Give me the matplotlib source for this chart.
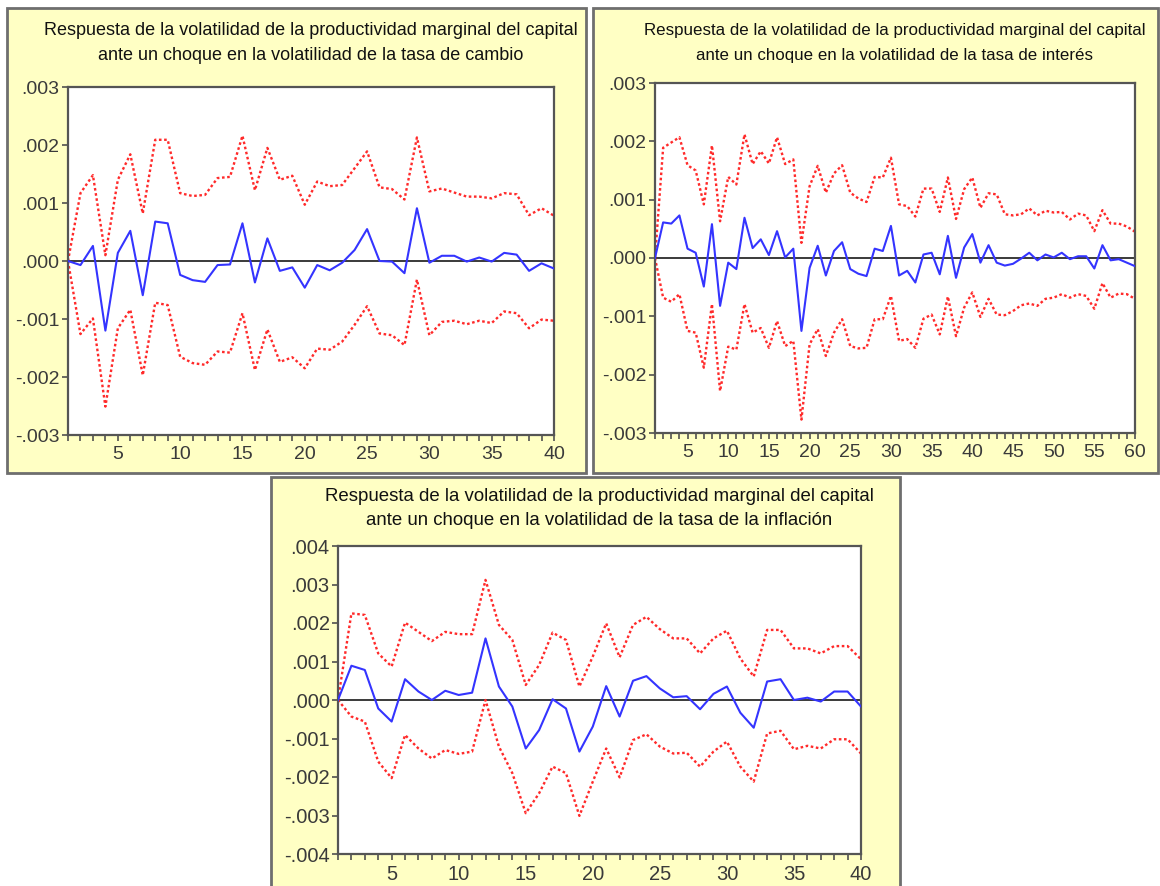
import numpy as np
import matplotlib.pyplot as plt
from matplotlib.patches import Rectangle
from matplotlib.ticker import FixedLocator, MultipleLocator, FuncFormatter

# Panel 1: shock in exchange-rate volatility (40 periods)
resp_cambio = [0.0, -0.00007, 0.00026, -0.0012, 0.00014, 0.00052, -0.00059, 0.00068, 0.00065, -0.00024,
               -0.00033, -0.00036, -0.00007, -0.00006, 0.00065, -0.00037, 0.00039, -0.00017, -0.00011, -0.00046,
               -0.00007, -0.00016, -0.00003, 0.00019, 0.00055, 0.0, -0.00001, -0.00021, 0.00091, -0.00003,
               0.00009, 0.00009, -0.00001, 0.00006, -0.00001, 0.00014, 0.00011, -0.00017, -0.00004, -0.00013]
sup_cambio = [0.0, 0.00117, 0.00148, 0.0001, 0.0014, 0.00184, 0.00082, 0.00209, 0.00209, 0.00117,
              0.00112, 0.00114, 0.00143, 0.00145, 0.00216, 0.00122, 0.00195, 0.0014, 0.00147, 0.00097,
              0.00137, 0.00129, 0.00131, 0.0016, 0.00189, 0.00127, 0.00124, 0.00106, 0.00213, 0.0012,
              0.00125, 0.00118, 0.00111, 0.00111, 0.00108, 0.00117, 0.00115, 0.00079, 0.00091, 0.00078]
inf_cambio = [0.0, -0.00126, -0.00099, -0.00251, -0.00116, -0.00084, -0.00197, -0.00072, -0.00076, -0.00165,
              -0.00176, -0.00179, -0.00156, -0.00158, -0.0009, -0.00188, -0.00118, -0.00174, -0.00166, -0.00185,
              -0.00151, -0.00153, -0.00139, -0.0011, -0.00078, -0.00125, -0.00128, -0.00145, -0.00032, -0.00128,
              -0.00105, -0.00103, -0.00109, -0.00103, -0.00107, -0.00087, -0.0009, -0.00116, -0.00101, -0.00103]

# Panel 2: shock in interest-rate volatility (60 periods)
resp_interes = [0.0, 0.00061, 0.00059, 0.00073, 0.00016, 0.00009, -0.00049, 0.00058, -0.00082, -0.00008,
                -0.00019, 0.00069, 0.00017, 0.00032, 0.00005, 0.00046, 0.00001, 0.00016, -0.00125, -0.00017,
                0.00021, -0.0003, 0.00012, 0.00027, -0.00019, -0.00027, -0.00031, 0.00016, 0.00012, 0.00055,
                -0.0003, -0.00022, -0.00042, 0.00006, 0.00009, -0.00028, 0.00038, -0.00034, 0.00018, 0.00041,
                -0.00008, 0.00022, -0.00008, -0.00013, -0.0001, -0.00001, 0.00009, -0.00004, 0.00006, 0.00001,
                0.00009, -0.00002, 0.00003, 0.00003, -0.00018, 0.00022, -0.00004, -0.00002, -0.00008, -0.00014]
sup_interes = [0.0, 0.00189, 0.00198, 0.00207, 0.00159, 0.0015, 0.00092, 0.00193, 0.00063, 0.00139,
               0.00126, 0.00212, 0.00161, 0.00183, 0.00162, 0.00207, 0.00161, 0.00169, 0.00026, 0.00123,
               0.00158, 0.00112, 0.00145, 0.00159, 0.00112, 0.00102, 0.00096, 0.00139, 0.00138, 0.00172,
               0.00092, 0.00089, 0.00071, 0.00119, 0.00119, 0.00079, 0.00138, 0.00067, 0.00118, 0.00138,
               0.00086, 0.00111, 0.00109, 0.00075, 0.00073, 0.00075, 0.00085, 0.00073, 0.00081, 0.00078,
               0.00079, 0.00066, 0.00076, 0.00073, 0.00046, 0.00082, 0.00059, 0.00059, 0.00054, 0.00045]
inf_interes = [0.0, -0.00068, -0.00075, -0.00062, -0.00125, -0.00128, -0.00188, -0.00079, -0.00228, -0.00152,
               -0.00157, -0.00079, -0.00128, -0.0012, -0.00154, -0.00108, -0.00151, -0.00142, -0.00277, -0.00148,
               -0.00122, -0.00168, -0.00128, -0.00105, -0.00151, -0.00155, -0.00154, -0.00105, -0.00105, -0.00065,
               -0.00142, -0.00139, -0.00154, -0.00104, -0.00097, -0.00131, -0.00066, -0.00134, -0.00085, -0.00059,
               -0.00101, -0.0007, -0.00097, -0.00098, -0.00091, -0.00081, -0.00078, -0.00082, -0.0007, -0.00068,
               -0.00062, -0.00068, -0.00062, -0.00065, -0.00087, -0.00043, -0.00068, -0.00061, -0.00062, -0.0007]

# Panel 3: shock in inflation volatility (40 periods)
resp_inflacion = [0.0, 0.00089, 0.00078, -0.00022, -0.00056, 0.00054, 0.00022, 0.0, 0.00024, 0.00013,
                  0.00019, 0.0016, 0.00035, -0.00017, -0.00126, -0.00078, 0.00002, -0.00022, -0.00134, -0.00069,
                  0.00036, -0.00043, 0.0005, 0.00062, 0.0003, 0.00007, 0.0001, -0.00024, 0.00016, 0.00035,
                  -0.00033, -0.00072, 0.00048, 0.00054, 0.0, 0.00006, -0.00004, 0.00022, 0.00022, -0.00017]
sup_inflacion = [0.0, 0.00225, 0.00221, 0.00121, 0.00087, 0.00201, 0.00177, 0.00153, 0.00177, 0.00171,
                 0.00171, 0.00312, 0.00195, 0.00156, 0.00039, 0.00091, 0.00175, 0.00156, 0.00035, 0.00113,
                 0.00199, 0.00111, 0.00195, 0.00216, 0.00184, 0.0016, 0.0016, 0.00121, 0.0016, 0.0018,
                 0.00108, 0.00061, 0.00182, 0.00182, 0.00134, 0.00134, 0.00121, 0.0014, 0.0014, 0.00106]
inf_inflacion = [0.0, -0.00043, -0.00056, -0.0016, -0.00203, -0.00091, -0.00126, -0.00152, -0.0013, -0.0014,
                 -0.00134, 0.0, -0.00121, -0.0019, -0.00294, -0.00242, -0.00173, -0.0019, -0.00301, -0.00212,
                 -0.00126, -0.00201, -0.00104, -0.00089, -0.00121, -0.00139, -0.00137, -0.00173, -0.00134, -0.00108,
                 -0.00173, -0.00212, -0.00087, -0.0008, -0.00128, -0.00119, -0.00126, -0.00102, -0.00102, -0.00139]

titulos = [
    "Respuesta de la volatilidad de la productividad marginal del capital\nante un choque en la volatilidad de la tasa de cambio",
    "Respuesta de la volatilidad de la productividad marginal del capital\nante un choque en la volatilidad de la tasa de interés",
    "Respuesta de la volatilidad de la productividad marginal del capital\nante un choque en la volatilidad de la tasa de la inflación",
]
yticks_1 = [-0.003, -0.002, -0.001, 0.0, 0.001, 0.002, 0.003]
yticks_3 = [-0.004, -0.003, -0.002, -0.001, 0.0, 0.001, 0.002, 0.003, 0.004]

W, H = 1160, 886
fig = plt.figure(figsize=(W / 100, H / 100), dpi=100)
fig.patch.set_facecolor("white")

yellow = "#FFFFC4"

def px_rect(x0, y0, x1, y1):
    # pixel box (top-left origin) -> figure fraction [l, b, w, h]
    return [x0 / W, 1 - y1 / H, (x1 - x0) / W, (y1 - y0) / H]

# yellow frames behind each chart
for (x0, y0, x1, y1) in [(7, 8, 586, 473), (593, 8, 1158, 473), (271, 477, 900, 890)]:
    l, b, w, h = px_rect(x0, y0, x1, y1)
    fig.patches.append(Rectangle((l, b), w, h, transform=fig.transFigure,
                                 facecolor=yellow, edgecolor="#6E6E6E", lw=2, zorder=-5))

def fmt(v, pos=None):
    return f"{v:.3f}".replace("0.", ".")

def panel(box, resp, sup, inf, yticks, title, title_y, tsize, lsize, lspace):
    ax = fig.add_axes(px_rect(*box), zorder=2)
    ax.set_facecolor("white")
    n = len(resp)
    x = np.arange(1, n + 1)
    ax.axhline(0, color="#3A3A3A", lw=1.4, zorder=1)
    ax.plot(x, sup, color="#FF2A2A", lw=1.7, ls=(0, (1.1, 1.1)), zorder=2)
    ax.plot(x, inf, color="#FF2A2A", lw=1.7, ls=(0, (1.1, 1.1)), zorder=2)
    ax.plot(x, resp, color="#3434FF", lw=1.5, zorder=3)
    ax.set_xlim(1, n)
    ax.set_ylim(yticks[0], yticks[-1])
    ax.yaxis.set_major_locator(FixedLocator(yticks))
    ax.yaxis.set_major_formatter(FuncFormatter(fmt))
    ax.xaxis.set_major_locator(MultipleLocator(5))
    ax.xaxis.set_minor_locator(MultipleLocator(1))
    ax.tick_params(axis="both", direction="out", length=4, width=1.2, color="#505050",
                   labelsize=lsize, labelcolor="#3A3A3A", pad=2)
    ax.tick_params(axis="x", which="major", pad=4)
    ax.tick_params(axis="x", which="minor", direction="out", length=4, width=1.2, color="#505050")
    for s in ax.spines.values():
        s.set_color("#555555")
        s.set_linewidth(1.6)
    for lab in ax.get_xticklabels() + ax.get_yticklabels():
        lab.set_fontfamily("Liberation Sans")
    cx = (box[0] + box[2]) / 2 / W
    fig.text(cx, 1 - title_y / H, title, ha="center", va="top", fontsize=tsize,
             family="Liberation Sans", color="#111111", linespacing=lspace)
    return ax

panel((68, 87, 554, 435), resp_cambio, sup_cambio, inf_cambio, yticks_1, titulos[0], 22, 13, 14, 1.6)
panel((655, 83, 1135, 433), resp_interes, sup_interes, inf_interes, yticks_1, titulos[1], 23, 12.2, 14, 1.85)
panel((338, 546, 861, 854), resp_inflacion, sup_inflacion, inf_inflacion, yticks_3, titulos[2], 488, 13.4, 14.5, 1.55)

fig.savefig("out.png", dpi=100)
